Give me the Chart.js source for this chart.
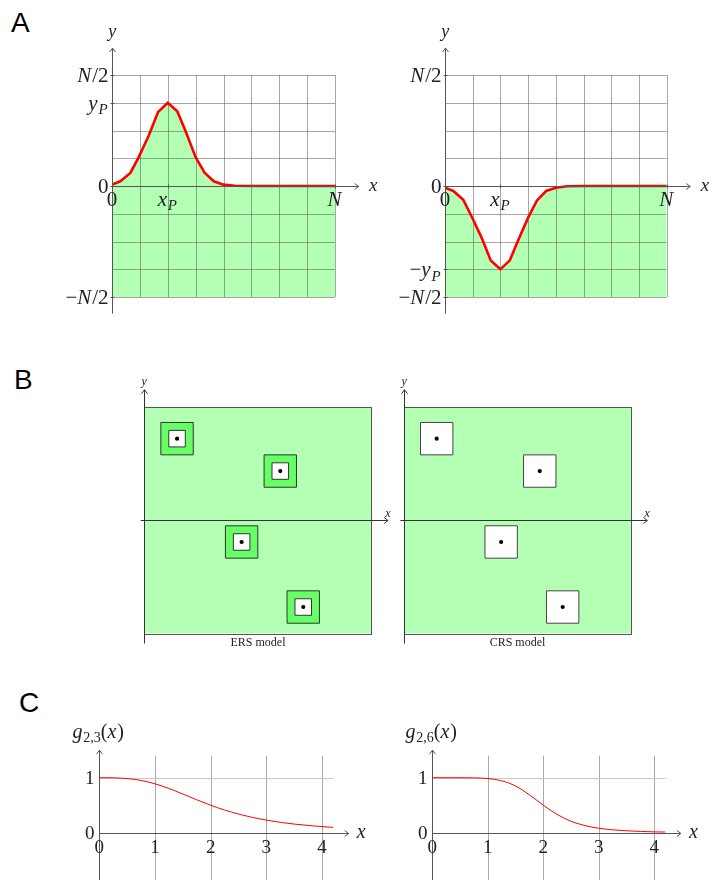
<!DOCTYPE html>
<html>
<head>
<meta charset="utf-8">
<script src="https://cdn.jsdelivr.net/npm/chart.js@4.4.1/dist/chart.umd.min.js"></script>
<style>
body { margin: 0; background: #fff; }
#page { position: relative; width: 709px; height: 880px; overflow: hidden; }
canvas { position: absolute; }
.tag { position: absolute; font: 28px "Liberation Sans", Arial, sans-serif; line-height: 28px; color: #000; }
</style>
</head>
<body>
<div id="page">
  <div class="tag" style="left:11px;top:9px">A</div>
  <div class="tag" style="left:14px;top:366px">B</div>
  <div class="tag" style="left:19px;top:689px">C</div>
  <canvas id="aLeft" width="390" height="320" style="left:0;top:0"></canvas>
  <canvas id="aRight" width="354" height="320" style="left:355px;top:0"></canvas>
  <canvas id="ers" width="300" height="300" style="left:100px;top:360px"></canvas>
  <canvas id="crs" width="300" height="300" style="left:360px;top:360px"></canvas>
  <canvas id="g23" width="330" height="180" style="left:40px;top:700px"></canvas>
  <canvas id="g26" width="329" height="180" style="left:380px;top:700px"></canvas>
</div>
<script>
// Panel A: peak profile, x in grid cells (N = 8), y in grid cells (N/2 = 4)
const peakX = [0, 0.3, 0.66, 0.96, 1.32, 1.65, 2, 2.34, 2.63, 3.0, 3.32, 3.65, 4.0, 4.4, 5, 6, 7, 8];
const peakUp = [0.05, 0.17, 0.47, 1.04, 1.82, 2.66, 3, 2.69, 2.0, 1.04, 0.48, 0.17, 0.05, 0.01, 0, 0, 0, 0];
const peakDown = [-0.06, -0.18, -0.5, -1.1, -1.86, -2.68, -3, -2.68, -1.98, -1.14, -0.52, -0.18, -0.06, -0.01, 0, 0, 0, 0];
const gridCols = [0, 1, 2, 3, 4, 5, 6, 7, 8];
const gridRows = [-4, -3, -2, -1, 0, 1, 2, 3, 4];
const upTicks = [4, 3, 0, -4];
const upTickLabels = ['N/2', 'y_P', '0', '\u2212N/2'];
const downTicks = [4, 0, -3, -4];
const downTickLabels = ['N/2', '0', '\u2212y_P', '\u2212N/2'];
const peakXTicks = [0, 2, 8];
const peakXTickLabels = ['0', 'x_P', 'N'];

// Panel B: site centres (same in both models), box is 0..10 by -5..5
const siteX = [1.44, 5.98, 4.28, 6.99];
const siteY = [3.59, 2.16, -0.97, -3.84];

// Panel C: g functions
const gX = [0, 0.25, 0.5, 0.75, 1, 1.25, 1.5, 1.75, 2, 2.25, 2.5, 2.75, 3, 3.25, 3.5, 3.75, 4, 4.2];
const g23 = [1, 0.998, 0.984, 0.95, 0.889, 0.804, 0.703, 0.599, 0.5, 0.412, 0.339, 0.278, 0.229, 0.189, 0.157, 0.132, 0.111, 0.097];
const g26 = [1, 1, 1, 0.997, 0.985, 0.944, 0.849, 0.688, 0.5, 0.331, 0.208, 0.129, 0.081, 0.052, 0.035, 0.023, 0.015, 0.012];
const gXTicks = [0, 1, 2, 3, 4];
const gYTicks = [0, 1];

const green = '#b3ffb3';
const darkGreen = '#66ff66';
const ink = '#222';

// small math text: letters italic, '_x' or '_{..}' subscript
function mathParts(s) {
  const parts = [];
  let i = 0;
  while (i < s.length) {
    let sub = false, chunk;
    if (s[i] === '_') {
      sub = true; i++;
      if (s[i] === '{') { const j = s.indexOf('}', i); chunk = s.slice(i + 1, j); i = j + 1; }
      else { chunk = s[i]; i++; }
    } else { chunk = s[i]; i++; }
    for (const c of chunk) parts.push({ c, sub, it: /[a-zA-Z]/.test(c) });
  }
  return parts;
}

function drawMath(ctx, s, x, y, size, align) {
  const parts = mathParts(s);
  const font = p => (p.it ? 'italic ' : '') + (p.sub ? Math.round(size * 0.7) : size) + 'px "Liberation Serif", serif';
  let w = 0;
  parts.forEach(p => { ctx.font = font(p); p.w = ctx.measureText(p.c).width + (p.it ? size * 0.04 : 0); w += p.w; });
  let cx = align === 'right' ? x - w : align === 'center' ? x - w / 2 : x;
  ctx.save();
  ctx.fillStyle = ink;
  ctx.textAlign = 'left';
  ctx.textBaseline = 'alphabetic';
  parts.forEach(p => {
    ctx.font = font(p);
    ctx.fillText(p.c, cx, y + (p.sub ? size * 0.22 : 0));
    cx += p.w;
  });
  ctx.restore();
}

function seg(ctx, x1, y1, x2, y2) {
  ctx.beginPath();
  ctx.moveTo(x1, y1);
  ctx.lineTo(x2, y2);
  ctx.stroke();
}

function crisp(v) { return Math.round(v) + 0.5; }

function arrowRight(ctx, x, y) {
  seg(ctx, x - 4, y - 3, x, y);
  seg(ctx, x - 4, y + 3, x, y);
}
function arrowUp(ctx, x, y) {
  seg(ctx, x - 3, y + 4, x, y);
  seg(ctx, x + 3, y + 4, x, y);
}

const baseOptions = (padding, xr, yr) => ({
  responsive: false,
  animation: false,
  devicePixelRatio: 1,
  events: [],
  layout: { padding },
  plugins: { legend: { display: false }, tooltip: { enabled: false } },
  scales: {
    x: { type: 'linear', min: xr[0], max: xr[1], display: false },
    y: { type: 'linear', min: yr[0], max: yr[1], display: false }
  }
});

// ---- Panel A ----
function peakChart(id, padding, ys, yTicks, yLabels) {
  const pts = peakX.map((x, i) => ({ x, y: ys[i] }));
  const deco = {
    id: 'peakDeco',
    afterDatasetDraw(chart, args) {
      if (args.index !== 0) return;
      const { ctx, scales: { x, y } } = chart;
      ctx.save();
      ctx.strokeStyle = 'rgba(80,80,80,0.5)';
      ctx.lineWidth = 1;
      gridCols.forEach(v => {
        const px = crisp(x.getPixelForValue(v));
        seg(ctx, px, y.getPixelForValue(4), px, y.getPixelForValue(-4));
      });
      gridRows.forEach(v => {
        const py = crisp(y.getPixelForValue(v));
        seg(ctx, x.getPixelForValue(0), py, x.getPixelForValue(8), py);
      });
      ctx.restore();
    },
    afterDraw(chart) {
      const { ctx, scales: { x, y } } = chart;
      const ox = crisp(x.getPixelForValue(0));
      const oy = crisp(y.getPixelForValue(0));
      ctx.save();
      ctx.strokeStyle = '#555';
      ctx.lineWidth = 1;
      const xEnd = x.getPixelForValue(8.85);
      const yTop = y.getPixelForValue(4.97);
      seg(ctx, ox, oy, xEnd, oy);
      arrowRight(ctx, xEnd, oy);
      seg(ctx, ox, y.getPixelForValue(-4.6), ox, yTop);
      arrowUp(ctx, ox, yTop);
      yTicks.forEach(v => {
        const py = crisp(y.getPixelForValue(v));
        seg(ctx, ox - 2, py, ox + 2, py);
      });
      peakXTicks.forEach(v => {
        const px = crisp(x.getPixelForValue(v));
        seg(ctx, px, oy - 2, px, oy + 2);
      });
      ctx.restore();
      yTicks.forEach((v, i) => drawMath(ctx, yLabels[i], ox - 4, y.getPixelForValue(v) + 7, 21, 'right'));
      peakXTicks.forEach((v, i) => drawMath(ctx, peakXTickLabels[i], x.getPixelForValue(v), oy + 19, 21, 'center'));
      drawMath(ctx, 'y', ox, yTop - 11, 18, 'center');
      drawMath(ctx, 'x', xEnd + 15, oy + 4, 19, 'center');
    }
  };
  return new Chart(document.getElementById(id), {
    type: 'line',
    data: {
      datasets: [
        { data: pts, fill: 'start', backgroundColor: green, borderWidth: 0, pointRadius: 0, order: 2 },
        { data: pts, fill: false, borderColor: '#ff0000', borderWidth: 2.6, pointRadius: 0, tension: 0, order: 1 }
      ]
    },
    options: baseOptions(padding, [0, 8], [-4, 4]),
    plugins: [deco]
  });
}

peakChart('aLeft', { left: 112, right: 55, top: 75, bottom: 23 }, peakUp, upTicks, upTickLabels);
peakChart('aRight', { left: 90, right: 42.3, top: 75, bottom: 23 }, peakDown, downTicks, downTickLabels);

// ---- Panel B ----
function siteChart(id, padding, caption, buffered) {
  const pts = siteX.map((x, i) => ({ x, y: siteY[i] }));
  const datasets = [];
  if (buffered) {
    datasets.push({ data: pts, pointStyle: 'rect', pointRadius: 22.9, backgroundColor: darkGreen, borderColor: '#333', borderWidth: 1, order: 3 });
    datasets.push({ data: pts, pointStyle: 'rect', pointRadius: 11.7, backgroundColor: '#fff', borderColor: '#333', borderWidth: 1, order: 2 });
  } else {
    datasets.push({ data: pts, pointStyle: 'rect', pointRadius: 22.9, backgroundColor: '#fff', borderColor: '#444', borderWidth: 1, order: 2 });
  }
  datasets.push({ data: pts, pointStyle: 'circle', pointRadius: 2.1, backgroundColor: '#000', borderWidth: 0, order: 1 });

  const deco = {
    id: 'siteDeco',
    beforeDatasetsDraw(chart) {
      const { ctx, chartArea: a, scales: { x, y } } = chart;
      ctx.save();
      ctx.fillStyle = green;
      ctx.fillRect(a.left, a.top, a.right - a.left, a.bottom - a.top);
      ctx.strokeStyle = '#555';
      ctx.lineWidth = 1;
      ctx.strokeRect(crisp(a.left), crisp(a.top), Math.round(a.right - a.left), Math.round(a.bottom - a.top));
      const ox = crisp(x.getPixelForValue(0));
      const oy = crisp(y.getPixelForValue(0));
      ctx.strokeStyle = '#333';
      const xEnd = x.getPixelForValue(10.72);
      const yTop = y.getPixelForValue(5.75);
      seg(ctx, x.getPixelForValue(-0.16), oy, xEnd, oy);
      arrowRight(ctx, xEnd, oy);
      seg(ctx, ox, y.getPixelForValue(-5.45), ox, yTop);
      arrowUp(ctx, ox, yTop);
      ctx.restore();
      drawMath(ctx, 'y', ox, yTop - 5, 12, 'center');
      drawMath(ctx, 'x', xEnd, oy - 4, 12, 'center');
      ctx.save();
      ctx.fillStyle = ink;
      ctx.font = '12px "Liberation Serif", serif';
      ctx.textAlign = 'center';
      ctx.fillText(caption, x.getPixelForValue(5), a.bottom + 13);
      ctx.restore();
    }
  };
  return new Chart(document.getElementById(id), {
    type: 'scatter',
    data: { datasets },
    options: baseOptions(padding, [0, 10], [-5, 5]),
    plugins: [deco]
  });
}

siteChart('ers', { left: 44.3, right: 28.3, top: 46.7, bottom: 26.7 }, 'ERS model', true);
siteChart('crs', { left: 44, right: 29, top: 46.7, bottom: 26.7 }, 'CRS model', false);

// ---- Panel C ----
function gChart(id, padding, ys, name) {
  const pts = gX.map((x, i) => ({ x, y: ys[i] }));
  const deco = {
    id: 'gDeco',
    beforeDatasetsDraw(chart) {
      const { ctx, chartArea: a, scales: { x, y } } = chart;
      const ox = crisp(x.getPixelForValue(0));
      const oy = crisp(y.getPixelForValue(0));
      ctx.save();
      ctx.lineWidth = 1;
      ctx.strokeStyle = '#a8a8a8';
      gXTicks.slice(1).forEach(v => {
        const px = crisp(x.getPixelForValue(v));
        seg(ctx, px, a.top, px, a.bottom);
      });
      ctx.strokeStyle = '#c8c8c8';
      const p1 = crisp(y.getPixelForValue(1));
      seg(ctx, ox, p1, x.getPixelForValue(4.2), p1);
      ctx.strokeStyle = '#555';
      const xEnd = x.getPixelForValue(4.48);
      const yTop = y.getPixelForValue(1.5);
      seg(ctx, ox, oy, xEnd, oy);
      arrowRight(ctx, xEnd, oy);
      seg(ctx, ox, a.bottom, ox, yTop);
      arrowUp(ctx, ox, yTop);
      ctx.restore();
      gYTicks.forEach(v => drawMath(ctx, String(v), ox - 5, y.getPixelForValue(v) + 6.5, 19, 'right'));
      gXTicks.forEach(v => drawMath(ctx, String(v), x.getPixelForValue(v), oy + 19, 19, 'center'));
      drawMath(ctx, 'x', xEnd + 13, oy + 4, 20, 'center');
      drawMath(ctx, name, ox - 27, 38, 20, 'left');
    }
  };
  return new Chart(document.getElementById(id), {
    type: 'line',
    data: {
      datasets: [{ data: pts, fill: false, borderColor: '#ff0000', borderWidth: 1, pointRadius: 0, cubicInterpolationMode: 'monotone' }]
    },
    options: baseOptions(padding, [0, 4.2], [-0.86, 1.4]),
    plugins: [deco]
  });
}

gChart('g23', { left: 59.3, right: 36.9, top: 55.7, bottom: 0 }, g23, 'g_{2,3}(x)');
gChart('g26', { left: 52.3, right: 43.6, top: 55.7, bottom: 0 }, g26, 'g_{2,6}(x)');
</script>
</body>
</html>
